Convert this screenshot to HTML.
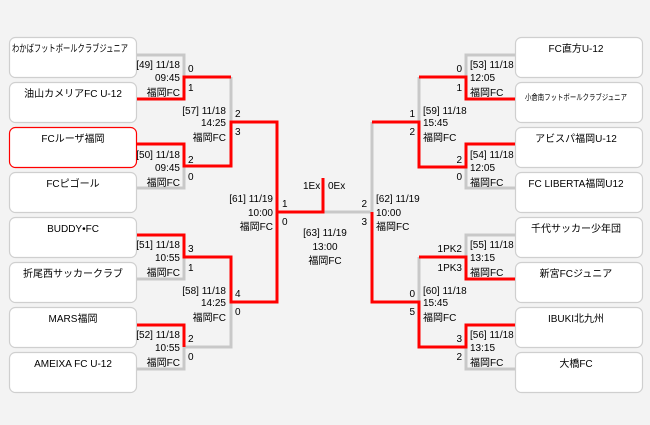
<!DOCTYPE html>
<html><head><meta charset="utf-8"><style>
body{margin:0;background:#f3f3f3;}
svg{display:block;font-family:"Liberation Sans","Noto Sans CJK JP",sans-serif;font-size:10px;}
</style></head><body>
<svg width="650" height="425" xmlns="http://www.w3.org/2000/svg">
<rect width="650" height="425" fill="#f3f3f3"/>
<g fill="#fff" stroke="#cfcfcf" stroke-width="1.2">
<rect x="9.5" y="37.5" width="127" height="40" rx="6"/>
<rect x="9.5" y="82.5" width="127" height="40" rx="6"/>
<rect x="9.5" y="127.5" width="127" height="40" rx="6" stroke="#f00"/>
<rect x="9.5" y="172.5" width="127" height="40" rx="6"/>
<rect x="9.5" y="217.5" width="127" height="40" rx="6"/>
<rect x="9.5" y="262.5" width="127" height="40" rx="6"/>
<rect x="9.5" y="307.5" width="127" height="40" rx="6"/>
<rect x="9.5" y="352.5" width="127" height="40" rx="6"/>
<rect x="515.5" y="37.5" width="127" height="40" rx="6"/>
<rect x="515.5" y="82.5" width="127" height="40" rx="6"/>
<rect x="515.5" y="127.5" width="127" height="40" rx="6"/>
<rect x="515.5" y="172.5" width="127" height="40" rx="6"/>
<rect x="515.5" y="217.5" width="127" height="40" rx="6"/>
<rect x="515.5" y="262.5" width="127" height="40" rx="6"/>
<rect x="515.5" y="307.5" width="127" height="40" rx="6"/>
<rect x="515.5" y="352.5" width="127" height="40" rx="6"/>
</g>
<g text-anchor="middle" fill="#000">
<text x="70" y="52" textLength="116" lengthAdjust="spacingAndGlyphs">わかばフットボールクラブジュニア</text>
<text x="73" y="97">油山カメリアFC U-12</text>
<text x="73" y="142">FCルーザ福岡</text>
<text x="73" y="187">FCピゴール</text>
<text x="73" y="232">BUDDY•FC</text>
<text x="73" y="277">折尾西サッカークラブ</text>
<text x="73" y="322">MARS福岡</text>
<text x="73" y="367">AMEIXA FC U-12</text>
<text x="576" y="52">FC直方U-12</text>
<text x="576" y="100" font-size="8" textLength="102" lengthAdjust="spacingAndGlyphs">小倉南フットボールクラブジュニア</text>
<text x="576" y="142">アビスパ福岡U-12</text>
<text x="576" y="187">FC LIBERTA福岡U12</text>
<text x="576" y="232">千代サッカー少年団</text>
<text x="576" y="277">新宮FCジュニア</text>
<text x="576" y="322">IBUKI北九州</text>
<text x="576" y="367">大橋FC</text>
</g>
<g fill="none" stroke-width="3" stroke="#c8c8c8">
<polyline points="137,55 184,55 184,77"/>
<polyline points="137,188 184,188 184,166"/>
<polyline points="231,77 231,122"/>
<polyline points="137,279 184,279 184,257"/>
<polyline points="137,369 184,369 184,347 231,347 231,302"/>
<polyline points="323,212 372,212 372,122"/>
<polyline points="515,55 466,55 466,77"/>
<polyline points="419,77 419,122"/>
<polyline points="515,188 466,188 466,167"/>
<polyline points="515,235 466,235 466,257"/>
<polyline points="419,257 419,302"/>
<polyline points="515,369 466,369 466,347"/>
</g>
<g fill="none" stroke-width="3" stroke="#f00">
<polyline points="137,99 184,99 184,77 231,77"/>
<polyline points="137,144 184,144 184,166 231,166 231,122 277,122 277,212 323,212 323,178"/>
<polyline points="137,235 184,235 184,257 231,257 231,302 277,302 277,212"/>
<polyline points="184,347 184,325 137,325"/>
<polyline points="515,99 466,99 466,77 419,77"/>
<polyline points="515,144 466,144 466,167 419,167 419,122 372,122"/>
<polyline points="515,279 466,279 466,257 419,257"/>
<polyline points="515,325 466,325 466,347 419,347 419,302 372,302 372,212"/>
</g>
<g fill="#000">
<g text-anchor="end">
<text x="180" y="68">[49] 11/18</text><text x="180" y="81">09:45</text><text x="180" y="96">福岡FC</text>
<text x="180" y="158">[50] 11/18</text><text x="180" y="171">09:45</text><text x="180" y="186">福岡FC</text>
<text x="180" y="248">[51] 11/18</text><text x="180" y="261">10:55</text><text x="180" y="276">福岡FC</text>
<text x="180" y="338">[52] 11/18</text><text x="180" y="351">10:55</text><text x="180" y="366">福岡FC</text>
<text x="226" y="114">[57] 11/18</text><text x="226" y="126">14:25</text><text x="226" y="141">福岡FC</text>
<text x="226" y="294">[58] 11/18</text><text x="226" y="306">14:25</text><text x="226" y="321">福岡FC</text>
<text x="273" y="202">[61] 11/19</text><text x="273" y="216">10:00</text><text x="273" y="230">福岡FC</text>
<text x="415" y="117">1</text><text x="415" y="135">2</text>
<text x="415" y="297">0</text><text x="415" y="315">5</text>
<text x="462" y="72">0</text><text x="462" y="91">1</text>
<text x="462" y="163">2</text><text x="462" y="180">0</text>
<text x="462" y="252">1PK2</text><text x="462" y="271">1PK3</text>
<text x="462" y="342">3</text><text x="462" y="360">2</text>
<text x="367" y="207">2</text><text x="367" y="225">3</text>
</g>
<text x="188" y="72">0</text><text x="188" y="91">1</text>
<text x="188" y="163">2</text><text x="188" y="180">0</text>
<text x="188" y="252">3</text><text x="188" y="271">1</text>
<text x="188" y="342">2</text><text x="188" y="360">0</text>
<text x="235" y="117">2</text><text x="235" y="135">3</text>
<text x="235" y="297">4</text><text x="235" y="315">0</text>
<text x="282" y="207">1</text><text x="282" y="225">0</text>
<text x="303" y="189">1Ex</text><text x="328" y="189">0Ex</text>
<g text-anchor="middle">
<text x="325" y="236">[63] 11/19</text><text x="325" y="250">13:00</text><text x="325" y="264">福岡FC</text>
</g>
<text x="376" y="202">[62] 11/19</text><text x="376" y="216">10:00</text><text x="376" y="230">福岡FC</text>
<text x="423" y="114">[59] 11/18</text><text x="423" y="126">15:45</text><text x="423" y="141">福岡FC</text>
<text x="423" y="294">[60] 11/18</text><text x="423" y="306">15:45</text><text x="423" y="321">福岡FC</text>
<text x="470" y="68">[53] 11/18</text><text x="470" y="81">12:05</text><text x="470" y="96">福岡FC</text>
<text x="470" y="158">[54] 11/18</text><text x="470" y="171">12:05</text><text x="470" y="186">福岡FC</text>
<text x="470" y="248">[55] 11/18</text><text x="470" y="261">13:15</text><text x="470" y="276">福岡FC</text>
<text x="470" y="338">[56] 11/18</text><text x="470" y="351">13:15</text><text x="470" y="366">福岡FC</text>
</g>
</svg>
</body></html>
